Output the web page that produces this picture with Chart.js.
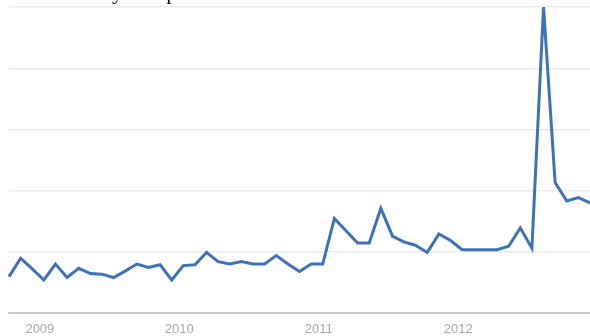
<!DOCTYPE html>
<html>
<head>
<meta charset="utf-8">
<script src="https://cdn.jsdelivr.net/npm/chart.js@4.4.1/dist/chart.umd.min.js"></script>
<style>
    html, body { margin: 0; padding: 0; background: #fff; overflow: hidden; }
    #wrap { position: relative; width: 590px; height: 336px; overflow: hidden; }
    #trendChart { display: block; }
    #topText {
        position: absolute; left: 2px; top: -21px; white-space: nowrap;
        font-family: "Liberation Serif", serif; font-size: 22px; color: #111;
    }
</style>
</head>
<body>
<div id="wrap">
    <div id="topText">Laws that say companies and uses</div>
    <!-- canvas a bit larger than the window, right/bottom edges get cropped like the screenshot -->
    <canvas id="trendChart" width="598" height="345"></canvas>
</div>
<script>
// monthly points, index 3 = January of each labelled year
const yearLabels = ['2009', '2010', '2011', '2012'];
const firstYearIndex = 3;

const interest = [
    12.0, 18.0, 14.5, 10.9, 16.1, 11.7, 14.7, 13.0, 12.8, 11.7,
    13.8, 16.1, 15.0, 15.9, 10.9, 15.6, 15.9, 19.9, 16.9, 16.1,
    16.9, 16.1, 16.1, 18.9, 16.1, 13.7, 16.1, 16.1, 31.0, 27.0,
    23.0, 23.0, 34.3, 25.2, 23.3, 22.2, 19.9, 25.9, 23.8, 20.8,
    20.8, 20.8, 20.8, 21.9, 27.9, 21.3, 100, 42.7, 36.7, 37.8,
    36.1
];

const yTicks = [0, 20, 40, 60, 80, 100];

// category labels: blank except for each January
const labels = interest.map((v, i) => {
    const k = i - firstYearIndex;
    return (k >= 0 && k % 12 === 0) ? (yearLabels[k / 12] || '') : '';
});

document.addEventListener('DOMContentLoaded', function() {
    const ctx = document.getElementById('trendChart').getContext('2d');

    new Chart(ctx, {
        type: 'line',
        data: {
            labels: labels,
            datasets: [{
                data: interest,
                borderColor: '#3d72b8',
                borderWidth: 3,
                pointRadius: 0,
                tension: 0,
                fill: false
            }]
        },
        options: {
            responsive: false,
            animation: false,
            layout: {
                padding: { left: 9, right: 0, top: 7, bottom: 0 }
            },
            plugins: {
                legend: { display: false },
                tooltip: { enabled: false }
            },
            scales: {
                x: {
                    offset: false,
                    grid: { display: false, drawTicks: false, tickLength: 0 },
                    border: { color: '#c9c9c9', width: 2 },
                    ticks: {
                        autoSkip: false,
                        maxRotation: 0,
                        minRotation: 0,
                        labelOffset: -4,
                        padding: 8,
                        color: '#a8a8a8',
                        font: { family: 'Liberation Sans', size: 13 },
                        callback: function(val, i) { return labels[i]; }
                    }
                },
                y: {
                    min: yTicks[0],
                    max: yTicks[yTicks.length - 1],
                    afterBuildTicks: function(axis) {
                        axis.ticks = yTicks.map(v => ({ value: v }));
                    },
                    border: { display: false },
                    grid: { color: '#ebebeb', lineWidth: 1.5, drawTicks: false },
                    ticks: { display: false }
                }
            }
        }
    });
});
</script>
</body>
</html>
